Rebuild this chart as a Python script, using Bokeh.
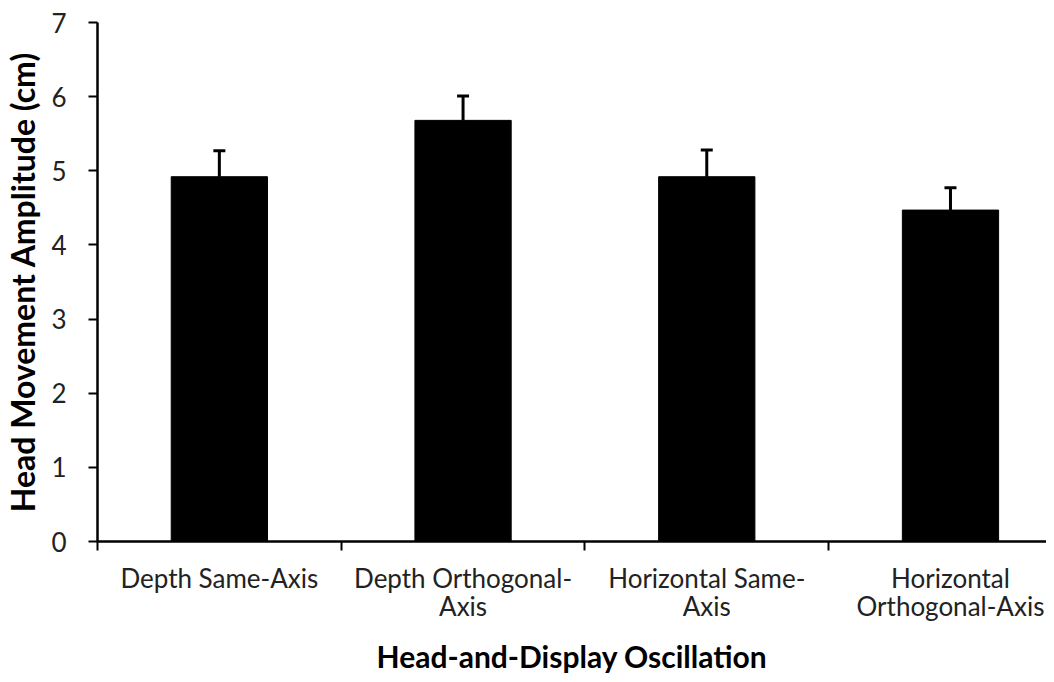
from bokeh.plotting import figure
from bokeh.models import Range1d, FixedTicker, Whisker, TeeHead, ColumnDataSource
from bokeh.embed import file_html
from bokeh.resources import INLINE

categories = ["Depth Same-Axis", "Depth Orthogonal-\nAxis", "Horizontal Same-\nAxis", "Horizontal\nOrthogonal-Axis"]
means = [4.92, 5.68, 4.92, 4.47]
errors = [0.35, 0.33, 0.36, 0.30]
y_ticks = [0, 1, 2, 3, 4, 5, 6, 7]

xs = [i + 0.5 for i in range(len(categories))]
upper = [m + e for m, e in zip(means, errors)]
src = ColumnDataSource(dict(x=xs, top=means, upper=upper))

FONT = "Lato"

p = figure(width=1046, height=674, output_backend="svg", toolbar_location=None,
           x_range=Range1d(0, 3.894), y_range=Range1d(0, 7),
           min_border_left=97, min_border_top=22, min_border_right=0, min_border_bottom=0)
p.frame_width = 949
p.frame_height = 519
p.outline_line_color = None
p.grid.grid_line_color = None
p.background_fill_color = "white"

p.vbar(x="x", top="top", width=0.395, bottom=0, source=src, fill_color="black", line_color="black")
w = Whisker(base="x", lower="top", upper="upper", source=src, dimension="height",
            line_width=3, line_color="black", lower_head=None,
            upper_head=TeeHead(size=12, line_width=3, line_color="black"))
p.add_layout(w)

xa = p.xaxis[0]
xa.ticker = FixedTicker(ticks=xs, minor_ticks=list(range(len(categories) + 1)))
xa.major_label_overrides = {x: c for x, c in zip(xs, categories)}
xa.major_tick_out = 0
xa.major_tick_in = 0
xa.minor_tick_out = 9
xa.minor_tick_in = 0
xa.minor_tick_line_width = 2
xa.minor_tick_line_color = "black"
xa.axis_line_width = 2.5
xa.axis_line_color = "black"
xa.major_label_text_font = FONT
xa.major_label_text_font_size = "26px"
xa.major_label_text_line_height = 0.9
xa.major_label_text_color = "#222222"
xa.major_label_standoff = 11
xa.axis_label = "Head-and-Display Oscillation"
xa.axis_label_text_font = FONT
xa.axis_label_text_font_style = "bold"
xa.axis_label_text_font_size = "30px"
xa.axis_label_text_color = "black"
xa.axis_label_standoff = 13

ya = p.yaxis[0]
ya.ticker = FixedTicker(ticks=y_ticks, minor_ticks=[])
ya.major_tick_out = 9
ya.major_tick_in = 0
ya.major_tick_line_width = 2
ya.axis_line_width = 2.5
ya.axis_line_color = "black"
ya.major_label_text_font = FONT
ya.major_label_text_font_size = "26px"
ya.major_label_text_color = "#222222"
ya.major_label_standoff = 22
ya.axis_label = "Head Movement Amplitude (cm)"
ya.axis_label_text_font = FONT
ya.axis_label_text_font_style = "bold"
ya.axis_label_text_font_size = "32px"
ya.axis_label_text_color = "black"
ya.axis_label_standoff = 6

open("out.html", "w").write(file_html(p, INLINE))
